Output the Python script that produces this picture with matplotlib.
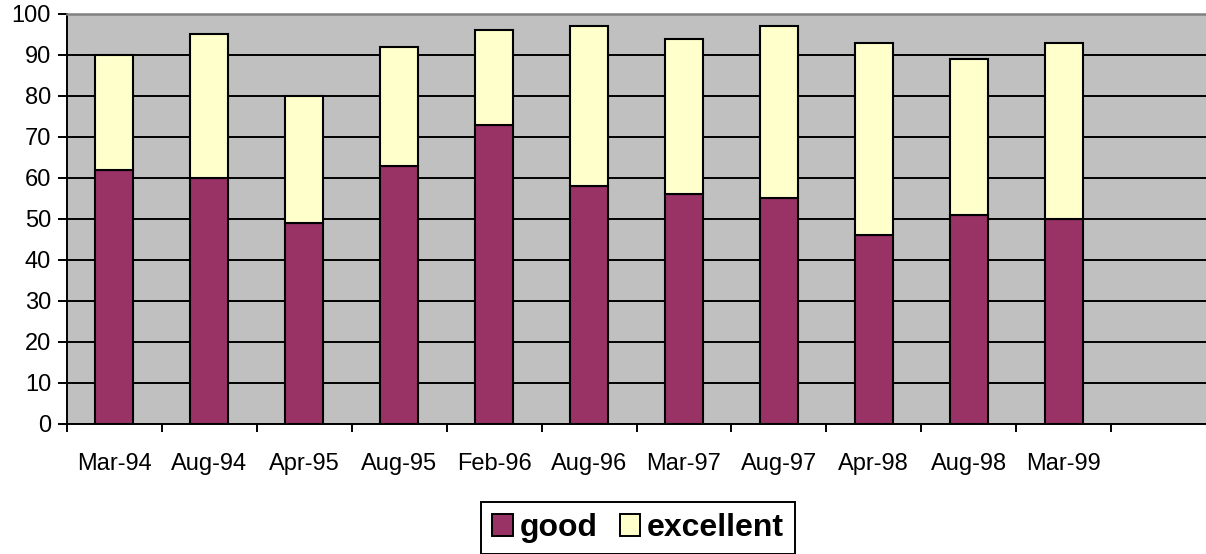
import numpy as np
import matplotlib.pyplot as plt

plt.rcParams['font.family'] = ['Liberation Sans', 'DejaVu Sans']

# values
dates = ["Mar-94", "Aug-94", "Apr-95", "Aug-95", "Feb-96", "Aug-96",
         "Mar-97", "Aug-97", "Apr-98", "Aug-98", "Mar-99"]
good = [62, 60, 49, 63, 73, 58, 56, 55, 46, 51, 50]
excellent = [28, 35, 31, 29, 23, 39, 38, 42, 47, 38, 43]

W, H = 1206, 554
fig = plt.figure(figsize=(W / 100, H / 100), dpi=100)
ax = fig.add_axes([67 / W, 1 - 423.5 / H, (W - 67) / W, (423.5 - 14) / H])
ax.set_facecolor("#C0C0C0")

x = np.arange(len(dates))
ax.bar(x, good, width=0.4, color="#993366", edgecolor="black", linewidth=1.5,
       label="good", zorder=3)
ax.bar(x, excellent, width=0.4, bottom=good, color="#FFFFCC", edgecolor="black",
       linewidth=1.5, label="excellent", zorder=3)

ax.set_xlim(-0.5, 11.5)
ax.set_ylim(0, 100)
ax.set_yticks(np.arange(0, 101, 10))
ax.yaxis.grid(True, color="black", linewidth=1.4, zorder=1)
ax.set_axisbelow(True)

# category boundaries get ticks, labels sit in the middle
ax.set_xticks(np.arange(-0.5, 11, 1.0))
ax.set_xticklabels([])
ax.set_xticks(x, minor=True)
ax.set_xticklabels(dates, minor=True)
ax.tick_params(axis="x", which="major", direction="out", length=6, width=1.4)
ax.tick_params(axis="x", which="minor", length=0, pad=21, labelsize=17)
ax.tick_params(axis="y", direction="out", length=6.5, width=1.4, labelsize=17, pad=5)

ax.spines["top"].set_color("#808080")
ax.spines["top"].set_linewidth(1.8)
ax.spines["right"].set_visible(False)
for s in ("left", "bottom"):
    ax.spines[s].set_linewidth(1.4)
    ax.spines[s].set_color("black")

leg = fig.legend(loc="center", bbox_to_anchor=(638 / W, 1 - 528 / H), ncol=2,
                 fancybox=False, edgecolor="black", framealpha=1,
                 prop={"weight": "bold", "size": 23}, handlelength=0.65,
                 handleheight=0.68, handletextpad=0.2, columnspacing=0.7,
                 borderpad=0.35, borderaxespad=0)
leg.get_frame().set_linewidth(1.4)
for h in leg.legend_handles:
    h.set_linewidth(1.4)

fig.savefig("out.png", dpi=100)
